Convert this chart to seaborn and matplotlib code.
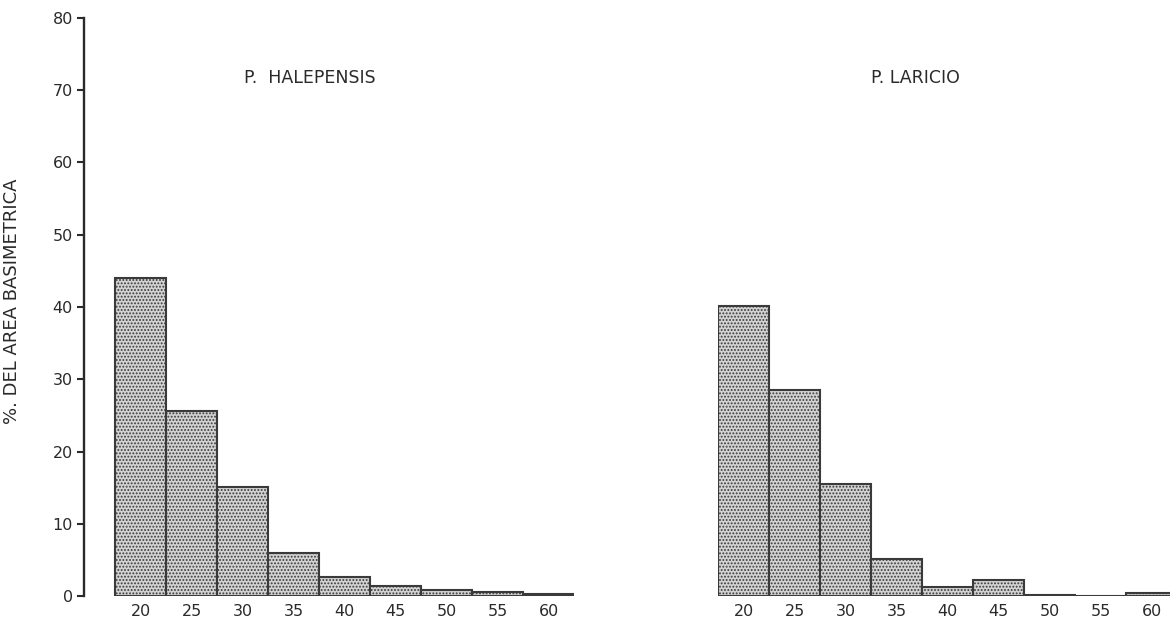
import numpy as np
import pandas as pd
import matplotlib
matplotlib.use("Agg")
import matplotlib.pyplot as plt
import seaborn as sns

# diameter classes (cm) and share of basal area (%)
classi = ["20", "25", "30", "35", "40", "45", "50", "55", "60"]
halepensis = [44.0, 25.6, 15.1, 6.0, 2.6, 1.4, 0.8, 0.5, 0.3]
laricio = [40.2, 28.5, 15.5, 5.1, 1.2, 2.2, 0.2, 0.0, 0.4]
y_ticks = [0, 10, 20, 30, 40, 50, 60, 70, 80]

sns.set_style("white")
plt.rcParams["font.family"] = ["DejaVu Sans"]
plt.rcParams["hatch.color"] = "#707070"
plt.rcParams["hatch.linewidth"] = 0.9

fig = plt.figure(figsize=(11.7, 6.24), dpi=100)
W, H = 1170, 624
bottom = (H - 596) / H
height = (596 - 18) / H
ax1 = fig.add_axes([84 / W, bottom, 490 / W, height])
ax2 = fig.add_axes([718 / W, bottom, 452 / W, height])

df1 = pd.DataFrame({"classe": classi, "valore": halepensis})
df2 = pd.DataFrame({"classe": classi, "valore": laricio})

for ax, df in [(ax1, df1), (ax2, df2)]:
    sns.barplot(data=df, x="classe", y="valore", order=classi, ax=ax,
                color="#d2d2d2", width=1.0, edgecolor="#3a3a3a",
                linewidth=1.5, saturation=1)
    for p in ax.patches:
        p.set_hatch(".....")
    ax.set_ylim(0, 80)
    ax.set_xlabel("")
    ax.set_ylabel("")
    for s in ["top", "right", "bottom"]:
        ax.spines[s].set_visible(False)
    ax.tick_params(axis="x", length=0, pad=6, labelsize=11.5, colors="#2a2a2a")
    ax.set_facecolor("none")

ax1.set_xlim(-1.11, 8.5)
ax2.set_xlim(-0.5, 8.36)

ax1.spines["left"].set_linewidth(1.7)
ax1.spines["left"].set_color("#2a2a2a")
ax1.set_yticks(y_ticks)
ax1.tick_params(axis="y", direction="out", length=5, width=1.5,
                labelsize=11.5, colors="#2a2a2a", left=True, pad=3)
ax1.set_ylabel("%. DEL AREA BASIMETRICA", fontsize=13, color="#2a2a2a")
ax1.yaxis.set_label_coords(-0.128, 0.51)

ax2.spines["left"].set_visible(False)
ax2.set_yticks([])

ax1.text(0.461, 0.896, "P.  HALEPENSIS", transform=ax1.transAxes,
         ha="center", va="center", fontsize=12.5, color="#2a2a2a")
ax2.text(0.436, 0.896, "P. LARICIO", transform=ax2.transAxes,
         ha="center", va="center", fontsize=12.5, color="#2a2a2a")

fig.savefig("out.png", dpi=100, facecolor="white")
